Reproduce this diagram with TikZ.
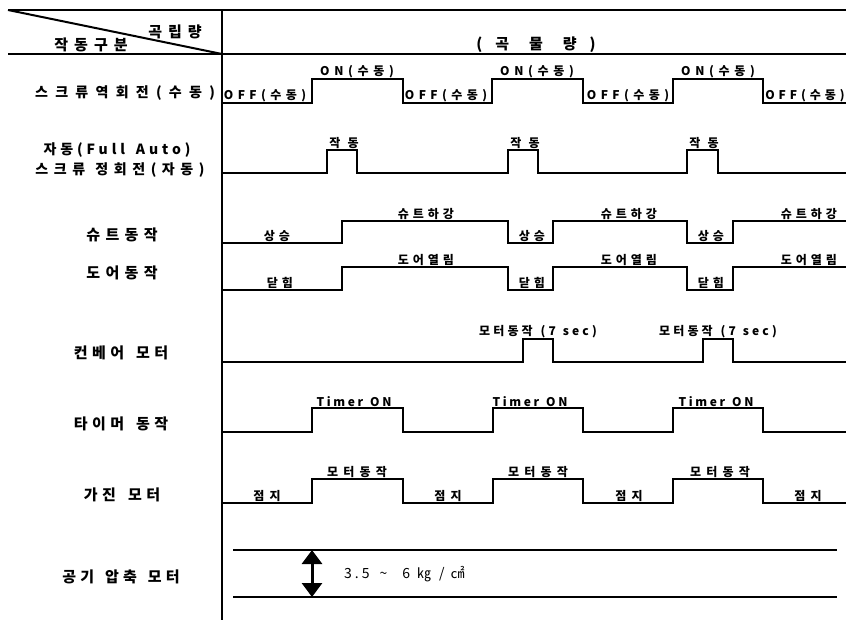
\documentclass[tikz,border=0pt]{standalone}
\usepackage{fontspec}
\setmainfont{Noto Sans CJK KR}
\usetikzlibrary{arrows.meta}
\newcommand{\LS}[1]{\addfontfeature{LetterSpace=#1}}
\newcommand{\wg}[1]{\hspace*{#1}}
\tikzset{
  wave/.style={line width=2pt, line join=miter},
  rulerline/.style={line width=2pt},
  rowlab/.style={inner sep=0pt, font=\fontsize{15}{18}\selectfont\bfseries, align=center},
  rowlabs/.style={inner sep=0pt, font=\fontsize{14}{17}\selectfont\bfseries, align=center},
  wlab/.style={inner sep=0pt, anchor=south, font=\fontsize{12}{14}\selectfont\bfseries},
  hdr/.style={inner sep=0pt, font=\fontsize{15}{17}\selectfont\bfseries},
}
\begin{document}
\begin{tikzpicture}[x=1pt,y=-1pt]
\useasboundingbox (0,0) rectangle (846,622);
% frame
\coordinate (tl) at (8,10); \coordinate (tr) at (846,10);
\coordinate (hl) at (8,54); \coordinate (hr) at (846,54);
\coordinate (vt) at (222,10); \coordinate (vb) at (222,620);
\coordinate (dg) at (222,54);
\draw[rulerline] (tl) -- (tr);
\draw[rulerline] (hl) -- (hr);
\draw[rulerline, line width=2.5pt] (vt) -- (vb);
\draw[rulerline] (tl) -- (dg);
% header texts
\node[hdr] (h1) at (175,32) {\LS{40}곡립량};
\node[hdr] (h2) at (91,45) {\LS{40}작동구분};
\node[hdr] (h3) at (536,45) {\LS{30}(\wg{13pt}곡\wg{20pt}물\wg{20pt}량\wg{13pt})};
% row labels
\node[rowlabs] (r1) at (125,93) {\LS{52}스크류역회전(수동)};
\node[rowlabs] (r2a) at (117,150) {\LS{28}자동(Full\wg{11pt}Auto)};
\node[rowlabs] (r2b) at (120,170) {\LS{40}스크류\wg{10pt}정회전(자동)};
\node[rowlab] (r3) at (122,235) {\LS{36}슈트동작};
\node[rowlab] (r4) at (122,273) {\LS{36}도어동작};
\node[rowlab] (r5) at (121,353) {\LS{30}컨베어\wg{12pt}모터};
\node[rowlab] (r6) at (121,424) {\LS{30}타이머\wg{12pt}동작};
\node[rowlab] (r7) at (122,495) {\LS{30}가진\wg{12pt}모터};
\node[rowlab] (r8) at (121,577) {\LS{28}공기\wg{11pt}압축\wg{11pt}모터};
% row 1
\draw[wave] (222,103) -| (312,79) -| (403,103) -| (492,79) -| (583,103) -| (673,79) -| (763,103) -- (846,103);
\node[wlab] (l1a) at (265,102) {\LS{37}OFF(수동)};
\node[wlab] (l1b) at (357,78) {\LS{39}ON(수동)};
\node[wlab] (l1c) at (446,102) {\LS{37}OFF(수동)};
\node[wlab] (l1d) at (537,78) {\LS{39}ON(수동)};
\node[wlab] (l1e) at (628,102) {\LS{37}OFF(수동)};
\node[wlab] (l1f) at (718,78) {\LS{39}ON(수동)};
\node[wlab] (l1g) at (805,102) {\LS{33}OFF(수동)};
% row 2
\draw[wave] (222,173) -| (327,150) -| (357,173) -| (508,150) -| (538,173) -| (687,150) -| (718,173) -- (846,173);
\node[wlab] (l2a) at (344,149) {\LS{60}작동};
\node[wlab] (l2b) at (525,149) {\LS{60}작동};
\node[wlab] (l2c) at (704,149) {\LS{60}작동};
% row 3
\draw[wave] (222,243) -| (342,221) -| (508,243) -| (553,221) -| (687,243) -| (733,221) -- (846,221);
\node[wlab] (l3a) at (277,242) {\LS{33}상승};
\node[wlab] (l3b) at (426,220) {\LS{33}슈트하강};
\node[wlab] (l3c) at (532,242) {\LS{33}상승};
\node[wlab] (l3d) at (629,220) {\LS{33}슈트하강};
\node[wlab] (l3e) at (711,242) {\LS{33}상승};
\node[wlab] (l3f) at (809,220) {\LS{33}슈트하강};
% row 4
\draw[wave] (222,290) -| (342,267) -| (508,290) -| (553,267) -| (687,290) -| (733,267) -- (846,267);
\node[wlab] (l4a) at (280,289) {\LS{33}닫힘};
\node[wlab] (l4b) at (426,266) {\LS{33}도어열림};
\node[wlab] (l4c) at (532,289) {\LS{33}닫힘};
\node[wlab] (l4d) at (629,266) {\LS{33}도어열림};
\node[wlab] (l4e) at (711,289) {\LS{33}닫힘};
\node[wlab] (l4f) at (809,266) {\LS{33}도어열림};
% row 5
\draw[wave] (222,362) -| (523,339) -| (553,362) -| (703,339) -| (733,362) -- (846,362);
\node[wlab] (l5a) at (538,338) {\LS{26}모터동작\wg{8pt}(7\wg{7pt}sec)};
\node[wlab] (l5b) at (718,338) {\LS{26}모터동작\wg{8pt}(7\wg{7pt}sec)};
% row 6
\draw[wave] (222,432) -| (312,408) -| (403,432) -| (493,408) -| (583,432) -| (673,408) -| (763,432) -- (846,432);
\node[wlab] (l6a) at (354,407) {\LS{22}Timer\wg{7pt}ON};
\node[wlab] (l6b) at (530,407) {\LS{22}Timer\wg{7pt}ON};
\node[wlab] (l6c) at (716,407) {\LS{22}Timer\wg{7pt}ON};
% row 7
\draw[wave] (222,503) -| (312,479) -| (403,503) -| (493,479) -| (583,503) -| (673,479) -| (763,503) -- (846,503);
\node[wlab] (l7a) at (357,478) {\LS{44}모터동작};
\node[wlab] (l7b) at (538,478) {\LS{44}모터동작};
\node[wlab] (l7c) at (720,478) {\LS{44}모터동작};
\node[wlab] (l7d) at (267,502) {\LS{45}점지};
\node[wlab] (l7e) at (448,502) {\LS{45}점지};
\node[wlab] (l7f) at (629,502) {\LS{45}점지};
\node[wlab] (l7g) at (808,502) {\LS{45}점지};
% row 8
\coordinate (p1a) at (233,550); \coordinate (p1b) at (837,550);
\coordinate (p2a) at (233,597); \coordinate (p2b) at (837,597);
\draw[line width=1.6pt] (p1a) -- (p1b);
\draw[line width=1.6pt] (p2a) -- (p2b);
\coordinate (ar1) at (312,550); \coordinate (ar2) at (312,597);
\draw[line width=3pt, {Triangle[width=20pt,length=14pt]}-{Triangle[width=20pt,length=14pt]}] (ar1) -- (ar2);
\node[inner sep=0pt, anchor=west, font=\fontsize{14}{16}\selectfont] (pr) at (344,574) {3\wg{3pt}.\wg{3pt}5\wg{10pt}\textasciitilde\wg{15pt}6\wg{7pt}㎏\wg{8pt}/\wg{6pt}㎠};
\end{tikzpicture}
\end{document}
